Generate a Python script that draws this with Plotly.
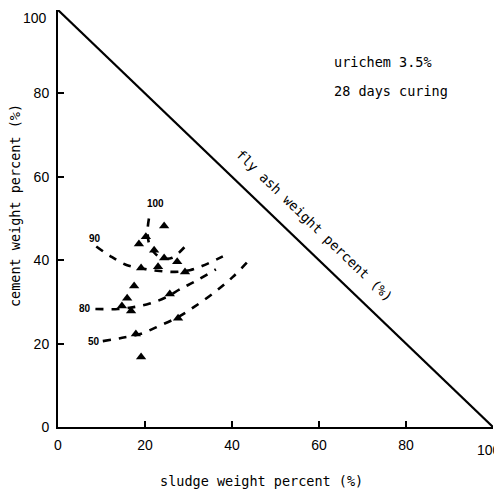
import plotly.graph_objects as go

# ---- data ----
axis_ticks = [0, 20, 40, 60, 80, 100]
tick_labels = ["0", "20", "40", "60", "80", "100"]

# fly ash boundary (sludge + cement = 100)
boundary_x = [0, 100]
boundary_y = [100, 0]

# measured points (sludge %, cement %)
pts_x = [24.4, 20.2, 18.6, 22.1, 24.4, 27.4, 19.1, 23.0, 29.2, 17.5, 15.9, 25.7, 14.7, 16.8, 27.6, 17.9, 19.1]
pts_y = [48.2, 45.6, 43.9, 42.4, 40.5, 39.6, 38.1, 38.4, 37.2, 33.8, 30.9, 31.9, 29.0, 27.8, 26.1, 22.3, 16.8]

# iso-strength curves
c100_x = [20.9, 20.6, 21.0, 22.5, 24.5, 26.3, 27.8, 29.5]
c100_y = [50.0, 47.0, 43.8, 41.4, 40.4, 40.6, 41.8, 43.6]
c90_x = [8.8, 12.0, 15.9, 20.0, 23.4, 26.9, 30.3, 33.1, 37.9]
c90_y = [43.3, 41.0, 38.8, 37.9, 37.4, 37.2, 37.6, 38.6, 40.9]
c80_x = [8.6, 13.8, 17.7, 21.1, 24.6, 28.0, 32.0, 36.3]
c80_y = [28.3, 28.3, 28.8, 29.6, 31.0, 33.0, 35.2, 37.8]
c50_x = [10.3, 14.3, 18.9, 23.4, 27.5, 31.3, 36.1, 40.2, 44.3]
c50_y = [20.6, 21.3, 22.3, 24.3, 26.3, 28.8, 32.4, 36.0, 40.4]
curve_labels = ["100", "90", "80", "50"]
label_x = [22.3, 8.5, 6.3, 8.3]
label_y = [53.5, 45.3, 28.3, 20.4]

note_lines = ["urichem 3.5%", "28 days curing"]

MONO = "DejaVu Sans Mono"
SANS = "Liberation Sans"

fig = go.Figure()

fig.add_trace(go.Scatter(x=boundary_x, y=boundary_y, mode="lines",
                         line=dict(color="black", width=2.2),
                         showlegend=False, hoverinfo="skip", cliponaxis=False))

for cx, cy in [(c100_x, c100_y), (c90_x, c90_y), (c80_x, c80_y), (c50_x, c50_y)]:
    fig.add_trace(go.Scatter(x=cx, y=cy, mode="lines",
                             line=dict(color="black", width=2.6, dash="8px,8px", shape="spline"),
                             showlegend=False, hoverinfo="skip"))

fig.add_trace(go.Scatter(x=pts_x, y=pts_y, mode="markers",
                         marker=dict(symbol="triangle-up", size=9, color="black"),
                         showlegend=False, hoverinfo="skip"))

annotations = []
for t, lx, ly in zip(curve_labels, label_x, label_y):
    annotations.append(dict(x=lx, y=ly, xref="x", yref="y", text="<b>%s</b>" % t,
                            xanchor="center", yanchor="middle",
                            showarrow=False, font=dict(family=SANS, size=10, color="black")))

annotations.append(dict(x=58.9, y=48.4, xref="x", yref="y", text="fly ash weight percent (%)",
                        textangle=44, showarrow=False, xanchor="center", yanchor="middle",
                        font=dict(family=MONO, size=13.5, color="black")))
annotations.append(dict(x=63.0, y=87.5, xref="x", yref="y", text=note_lines[0], xanchor="left",
                        yanchor="middle",
                        showarrow=False, font=dict(family=MONO, size=13.5, color="black")))
annotations.append(dict(x=63.0, y=80.6, xref="x", yref="y", text=note_lines[1], xanchor="left",
                        yanchor="middle",
                        showarrow=False, font=dict(family=MONO, size=13.5, color="black")))
annotations.append(dict(x=0.467, y=-0.129, xref="paper", yref="paper", text="sludge weight percent (%)",
                        xanchor="center", yanchor="middle",
                        showarrow=False, font=dict(family=MONO, size=13.5, color="black")))
annotations.append(dict(x=-0.099, y=0.532, xref="paper", yref="paper", text="cement weight percent (%)",
                        xanchor="center", yanchor="middle",
                        textangle=-90, showarrow=False, font=dict(family=MONO, size=13.5, color="black")))

# end labels "100" placed as annotations so they sit inside the page like the reference
annotations.append(dict(x=99.0, y=-0.055, xref="x", yref="paper", text=tick_labels[-1],
                        xanchor="center", yanchor="middle", showarrow=False,
                        font=dict(family=SANS, size=14, color="black")))
annotations.append(dict(x=-0.021, y=1.0045, xref="paper", yref="paper", text=tick_labels[-1],
                        xanchor="right", yanchor="top", showarrow=False,
                        font=dict(family=SANS, size=14, color="black")))

shown_labels = tick_labels[:-1] + [""]

axis_common = dict(range=[0, 100], showline=True, linecolor="black", linewidth=2,
                   ticks="inside", ticklen=6, tickwidth=1.5, tickcolor="black",
                   tickvals=axis_ticks, ticktext=shown_labels, showgrid=False, zeroline=False,
                   tickfont=dict(family=SANS, size=14, color="black"), fixedrange=True,
                   automargin=False)

# page body has an 8px margin, so the figure is sized/margined to put the
# plot area at x 58..493, y 10..427 in the window
fig.update_layout(
    width=494, height=486,
    margin=dict(l=50, r=9, t=2, b=67),
    paper_bgcolor="white", plot_bgcolor="white",
    xaxis=dict(**axis_common, ticklabelstandoff=4),
    yaxis=dict(**axis_common, ticklabelstandoff=4),
    annotations=annotations,
    showlegend=False,
)

fig.write_html("out.html")
